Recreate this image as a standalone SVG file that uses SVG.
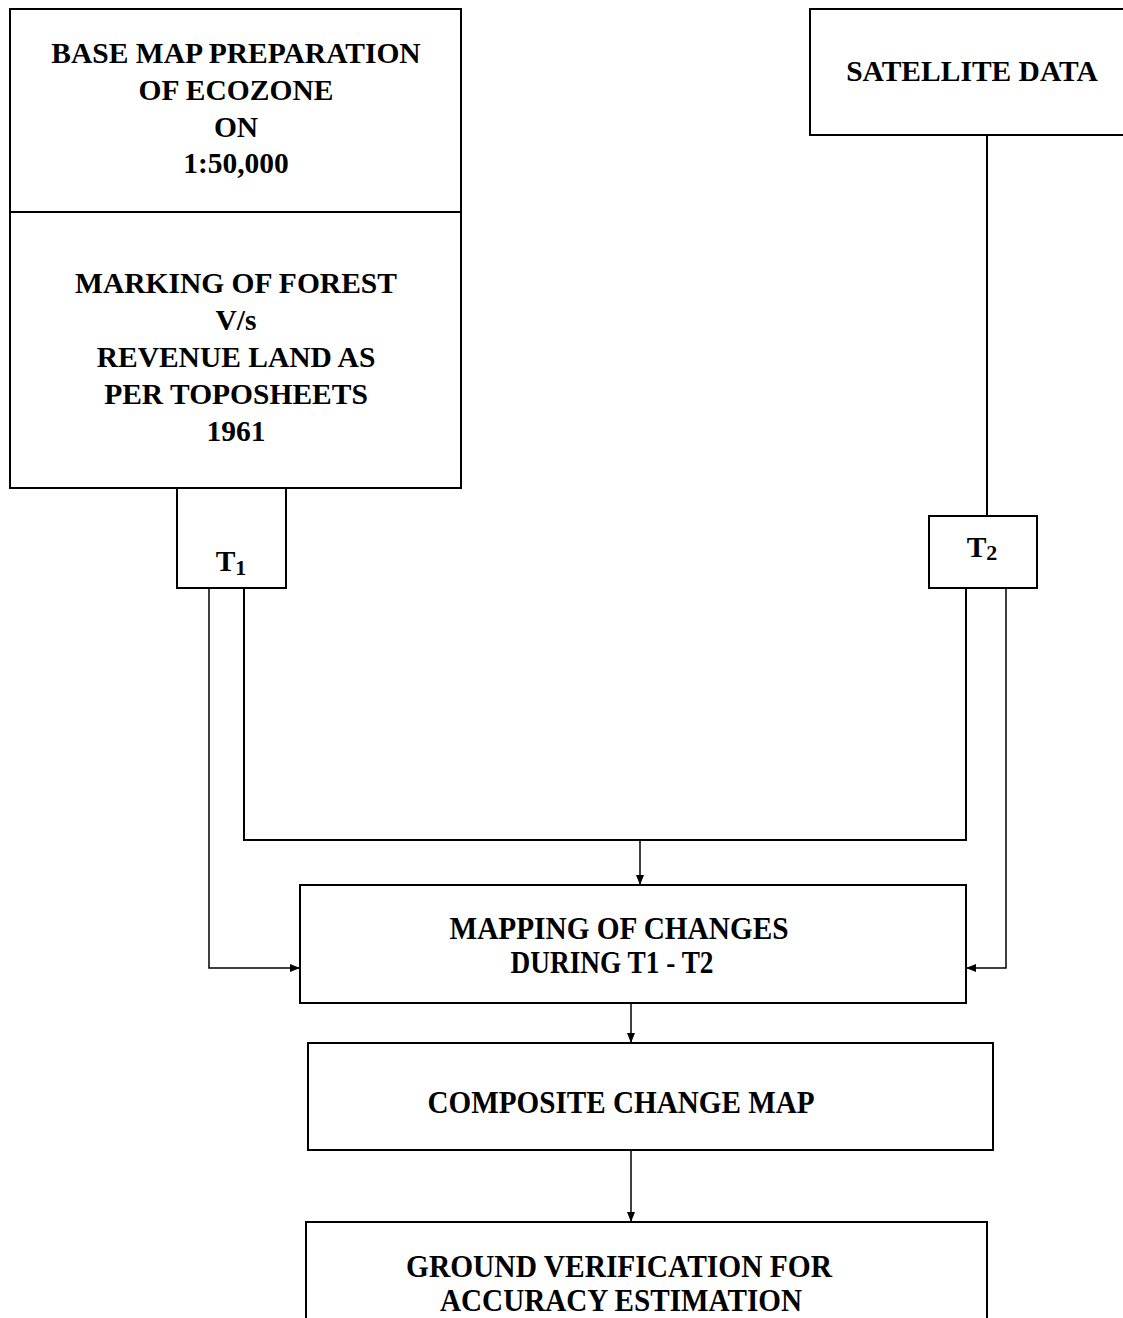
<svg xmlns="http://www.w3.org/2000/svg" width="1123" height="1318" viewBox="0 0 1123 1318">
<style>
.box{fill:#fff;stroke:#000;stroke-width:2}
.t{font-family:"Liberation Serif","Times New Roman",serif;font-weight:bold;font-size:29.5px;fill:#000;text-anchor:middle}
.c{font-family:"Liberation Serif","Times New Roman",serif;font-weight:bold;font-size:31px;fill:#000;text-anchor:middle}
.ln{fill:none;stroke:#000;stroke-width:2}
.ar{fill:none;stroke:#000;stroke-width:1.5}
</style>
<defs>
<marker id="ah" markerWidth="10" markerHeight="10" refX="9" refY="5" orient="auto" markerUnits="userSpaceOnUse">
<path d="M0,1 L10,5 L0,9 Z" fill="#000"/>
</marker>
</defs>
<rect width="1123" height="1318" fill="#fff"/>
<g id="connectors">
<line class="ln" x1="987" y1="135" x2="987" y2="516"/>
<polyline class="ln" points="244,588 244,840 966,840 966,588"/>
<polyline class="ar" points="209,588 209,968 299,968" marker-end="url(#ah)"/>
<polyline class="ar" points="1006,588 1006,968 967,968" marker-end="url(#ah)"/>
<line class="ar" x1="640" y1="840" x2="640" y2="884" marker-end="url(#ah)"/>
<line class="ar" x1="631" y1="1003" x2="631" y2="1042" marker-end="url(#ah)"/>
<line class="ar" x1="631" y1="1150" x2="631" y2="1221" marker-end="url(#ah)"/>
</g>
<g id="base-map">
<rect class="box" x="10" y="9" width="451" height="479"/>
<line class="ln" x1="10" y1="212" x2="461" y2="212"/>
<text class="t" x="236" y="63">BASE MAP PREPARATION</text>
<text class="t" x="236" y="100">OF ECOZONE</text>
<text class="t" x="236" y="137">ON</text>
<text class="t" x="236" y="173">1:50,000</text>
<text class="t" x="236" y="293">MARKING OF FOREST</text>
<text class="t" x="236" y="330">V/s</text>
<text class="t" x="236" y="367">REVENUE LAND AS</text>
<text class="t" x="236" y="404">PER TOPOSHEETS</text>
<text class="t" x="236" y="441">1961</text>
</g>
<g id="t1">
<rect class="box" x="177" y="488" width="109" height="100"/>
<text class="t" x="231" y="571">T<tspan font-size="22" dy="4">1</tspan></text>
</g>
<g id="satellite">
<rect class="box" x="810" y="9" width="320" height="126"/>
<text class="t" x="972" y="81">SATELLITE DATA</text>
</g>
<g id="t2">
<rect class="box" x="929" y="516" width="108" height="72"/>
<text class="t" x="982" y="557">T<tspan font-size="22" dy="3">2</tspan></text>
</g>
<g id="mapping">
<rect class="box" x="300" y="885" width="666" height="118"/>
<text class="c" x="619" y="939" textLength="339" lengthAdjust="spacingAndGlyphs">MAPPING OF CHANGES</text>
<text class="c" x="612" y="973" textLength="203" lengthAdjust="spacingAndGlyphs">DURING T1 - T2</text>
</g>
<g id="composite">
<rect class="box" x="308" y="1043" width="685" height="107"/>
<text class="c" x="621" y="1113" textLength="387" lengthAdjust="spacingAndGlyphs">COMPOSITE CHANGE MAP</text>
</g>
<g id="ground">
<rect class="box" x="306" y="1222" width="681" height="110"/>
<text class="c" x="619" y="1277" textLength="426" lengthAdjust="spacingAndGlyphs">GROUND VERIFICATION FOR</text>
<text class="c" x="621" y="1311" textLength="362" lengthAdjust="spacingAndGlyphs">ACCURACY ESTIMATION</text>
</g>
</svg>
